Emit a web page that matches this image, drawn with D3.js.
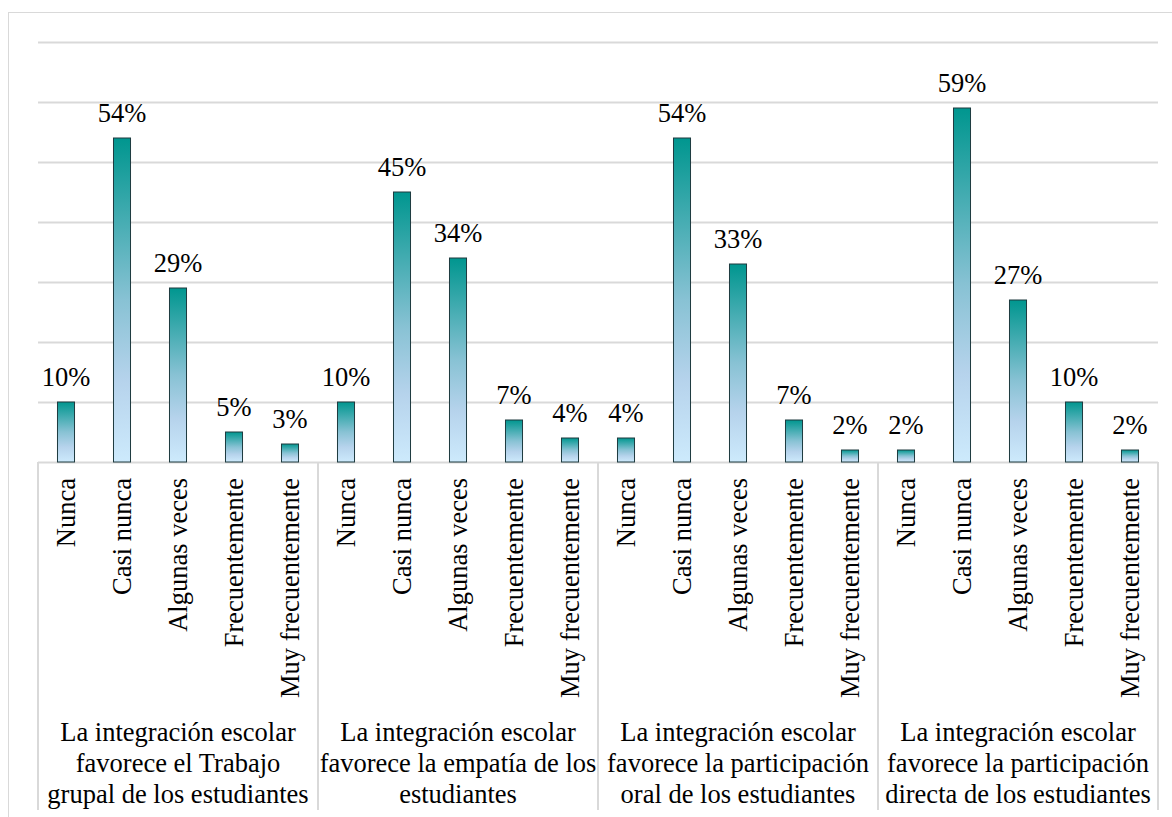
<!DOCTYPE html>
<html>
<head>
<meta charset="utf-8">
<script src="https://cdn.jsdelivr.net/npm/d3@7"></script>
</head>
<body style="margin:0">
<svg id="chart" width="1172" height="817"></svg>
<script>
// data
const groupLabels = [
    ["La integración escolar", "favorece el Trabajo", "grupal de los estudiantes"],
    ["La integración escolar", "favorece la empatía de los", "estudiantes"],
    ["La integración escolar", "favorece la participación", "oral de los estudiantes"],
    ["La integración escolar", "favorece la participación", "directa de los estudiantes"]
];
const categories = ["Nunca", "Casi nunca", "Algunas veces", "Frecuentemente", "Muy frecuentemente"];
const trabajoGrupal = [10, 54, 29, 5, 3];
const empatia = [10, 45, 34, 7, 4];
const participacionOral = [4, 54, 33, 7, 2];
const participacionDirecta = [2, 59, 27, 10, 2];
const yTicks = [10, 20, 30, 40, 50, 60, 70];

const series = [trabajoGrupal, empatia, participacionOral, participacionDirecta];

const svg = d3.select("#chart");
const plotLeft = 38, plotRight = 1158, plotTop = 42, base = 462, axisBottom = 810;

// outer chart frame
svg.append("rect")
    .attr("x", 8.5).attr("y", 12.5)
    .attr("width", 1200).attr("height", 840)
    .attr("fill", "none").attr("stroke", "#d9d9d9");

const x0 = d3.scaleBand().domain(d3.range(groupLabels.length)).range([plotLeft, plotRight]);
const x1 = d3.scaleBand().domain(categories).range([0, x0.bandwidth()])
    .paddingInner(0.696).paddingOuter(0.348);
const y = d3.scaleLinear().domain([0, 70]).range([base, plotTop]);

// gridlines
svg.append("g")
    .attr("transform", `translate(${plotLeft},0)`)
    .call(d3.axisLeft(y).tickValues(yTicks).tickSize(-(plotRight - plotLeft)).tickFormat(""))
    .call(g => g.select(".domain").remove())
    .call(g => g.selectAll("line").attr("stroke", "#d9d9d9").attr("stroke-width", 2));

// gradient
const defs = svg.append("defs");
const grad = defs.append("linearGradient").attr("id", "barGrad")
    .attr("x1", 0).attr("y1", 0).attr("x2", 0).attr("y2", 1);
grad.append("stop").attr("offset", "0%").attr("stop-color", "#00968f");
grad.append("stop").attr("offset", "50%").attr("stop-color", "#88c2d4");
grad.append("stop").attr("offset", "75%").attr("stop-color", "#b6d3ec");
grad.append("stop").attr("offset", "100%").attr("stop-color", "#cdeafc");

// axis box
svg.append("line")
    .attr("x1", plotLeft).attr("x2", plotRight).attr("y1", base + 0.5).attr("y2", base + 0.5)
    .attr("stroke", "#d9d9d9").attr("stroke-width", 2);
svg.selectAll(".sep")
    .data(d3.range(groupLabels.length + 1))
    .enter().append("line")
    .attr("x1", d => d < groupLabels.length ? x0(d) : plotRight)
    .attr("x2", d => d < groupLabels.length ? x0(d) : plotRight)
    .attr("y1", base).attr("y2", axisBottom)
    .attr("stroke", "#d9d9d9").attr("stroke-width", 2);

// bars
const barData = series.flatMap((vals, i) => vals.map((v, j) => ({ g: i, cat: categories[j], v })));
const barX = d => x0(d.g) + x1(d.cat);

svg.selectAll(".bar")
    .data(barData)
    .enter().append("rect")
    .attr("x", barX)
    .attr("y", d => y(d.v))
    .attr("width", x1.bandwidth())
    .attr("height", d => base - y(d.v))
    .attr("fill", "url(#barGrad)")
    .attr("stroke", "#1e3a3f").attr("stroke-width", 1);

// value labels
svg.selectAll(".val")
    .data(barData)
    .enter().append("text")
    .attr("x", d => barX(d) + x1.bandwidth() / 2)
    .attr("y", d => y(d.v) - 16)
    .attr("text-anchor", "middle")
    .attr("font-size", 26.5)
    .style("font-family", "Liberation Serif")
    .text(d => d.v + "%");

// category labels, rotated
svg.selectAll(".cat")
    .data(barData)
    .enter().append("text")
    .attr("transform", d => `translate(${barX(d) + x1.bandwidth() / 2 + 9},478) rotate(-90)`)
    .attr("text-anchor", "end")
    .attr("font-size", 26.5)
    .style("font-family", "Liberation Serif")
    .text(d => d.cat);

// group labels
groupLabels.forEach((lines, i) => {
    lines.forEach((s, k) => {
        svg.append("text")
            .attr("x", x0(i) + x0.bandwidth() / 2)
            .attr("y", 741 + k * 31)
            .attr("text-anchor", "middle")
            .attr("font-size", 26.5)
            .style("font-family", "Liberation Serif")
            .text(s);
    });
});
</script>
</body>
</html>
